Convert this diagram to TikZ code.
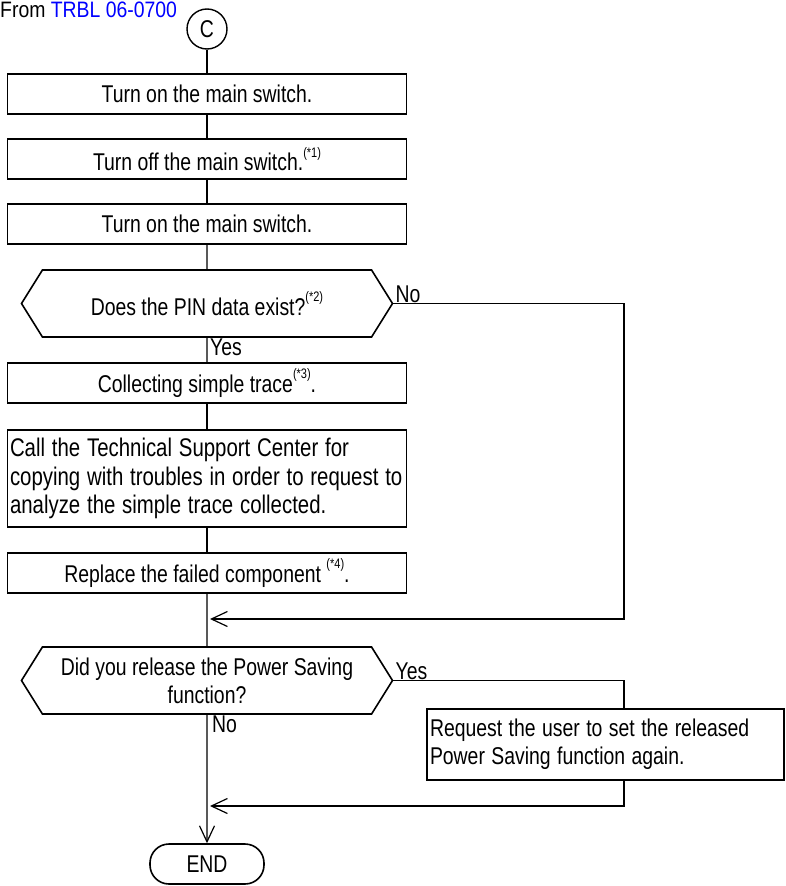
\documentclass[tikz,border=0pt]{standalone}
\usepackage{fontspec}
\setmainfont{Liberation Sans}
\usepackage{xcolor}
\usepackage{graphicx}
\usepackage{tikz}
\usetikzlibrary{arrows.meta,positioning,shapes.symbols}
\definecolor{linkblue}{RGB}{0,0,255}
\newcommand{\supnote}[1]{\raisebox{0.55em}{\fontsize{11}{11}\selectfont(*#1)}}
\newcommand{\tallt}[1]{\scalebox{1}[1.25]{#1}}

\begin{document}
\begin{tikzpicture}[
    x=1pt, y=-1pt,
    font=\fontsize{19.4}{28}\selectfont,
    box/.style={rectangle, draw, line width=1.6pt, minimum width=399pt, minimum height=40pt, inner sep=3pt, align=center},
    decision/.style={signal, signal to=west and east, signal pointer angle=116, draw, line width=1.6pt, minimum width=371pt, minimum height=67pt, inner sep=2pt, align=center},
    terminal/.style={rectangle, draw, line width=1.6pt, rounded corners=19pt, minimum width=114pt, minimum height=40pt},
    connector/.style={circle, draw, line width=1.4pt, minimum size=40pt, inner sep=0pt},
    link/.style={line width=1.2pt},
    arrow/.style={-{Straight Barb[length=16pt, width=15pt, line width=1.2pt]}, line width=1.2pt},
    lbl/.style={inner sep=1pt}
]
\useasboundingbox (0,0) rectangle (785,886);

% Nodes
\node[anchor=base west, inner sep=0pt] (from) at (0,17) {\scalebox{1}[1.15]{From \textcolor{linkblue}{TRBL 06-0700}}};
\node[connector] (c) at (207,29) {\tallt{C}};
\node[box] (on1) at (207,94) {\tallt{Turn on the main switch.}};
\node[box] (off) at (207,159) {\tallt{Turn off the main switch.\supnote{1}}};
\node[box] (on2) at (207,224) {\tallt{Turn on the main switch.}};
\node[decision] (pin) at (207,303.5) {\tallt{Does the PIN data exist?\supnote{2}}};
\node[box] (trace) at (207,383) {\tallt{Collecting simple trace\supnote{3}.}};
\node[box, minimum height=97pt, text width=394pt, inner xsep=2pt, align=left, font=\fontsize{20.4}{28.5}\selectfont] (call) at (207,478.5)
    {\tallt{Call the Technical Support Center for}\\\tallt{copying with troubles in order to request to}\\\tallt{analyze the simple trace collected.}};
\node[box] (repl) at (207,573) {\tallt{Replace the failed component \supnote{4}.}};
\node[decision] (psave) at (207,680.5) {\tallt{Did you release the Power Saving}\\\tallt{function?}};
\node[box, minimum width=357pt, minimum height=71pt, text width=351pt, align=left] (req) at (605.5,744.5)
    {\tallt{Request the user to set the released}\\\tallt{Power Saving function again.}};
\node[terminal] (end) at (207,864) {\tallt{END}};

\coordinate (rx) at (624,0);
\coordinate (m1) at (210,619);
\coordinate (m2) at (210,806);

% Arrows
\draw[link] (c) -- (on1);
\draw[link] (on1) -- (off);
\draw[link] (off) -- (on2);
\draw[link] (on2) -- (pin);
\draw[link] (pin) -- (trace);
\draw[link] (trace) -- (call);
\draw[link] (call) -- (repl);
\draw[link] (repl) -- (psave);
\draw[arrow] (pin.east) -| (rx |- m1) -- (m1);
\draw[link] (psave.east) -| (rx |- req.north);
\draw[arrow] (rx |- req.south) |- (m2);
\draw[arrow] (psave) -- (end);

% Labels
\node[lbl, anchor=south west] at ([xshift=1pt]pin.east) {\tallt{No}};
\node[lbl, anchor=north west] at ([xshift=2pt]pin.south) {\tallt{Yes}};
\node[lbl, anchor=south west] at ([xshift=1pt]psave.east) {\tallt{Yes}};
\node[lbl, anchor=north west] at ([xshift=4pt]psave.south) {\tallt{No}};
\end{tikzpicture}
\end{document}
